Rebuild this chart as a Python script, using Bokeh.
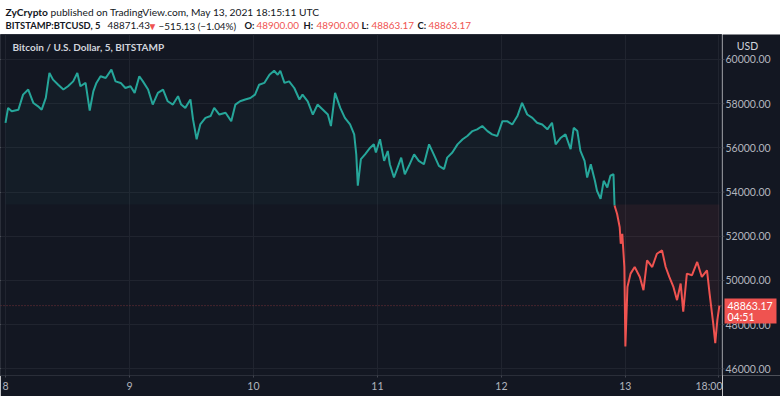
from bokeh.plotting import figure
from bokeh.models import Range1d, FixedTicker, Span, ColumnDataSource, Grid
from bokeh.layouts import column, row
from bokeh.embed import file_html
from bokeh.resources import INLINE
from bokeh.core.properties import value

# ---------------- data (hours since 8 May 2021 00:00 UTC, BTC/USD) ----------------
green_hours = [0.0, 0.5, 1.2, 2.5, 3.4, 4.4, 5.4, 6.3, 7.0, 7.8,
               8.5, 9.2, 10.2, 11.2, 12.1, 13.1, 13.9, 14.5, 15.5, 16.3,
               17.0, 17.6, 18.4, 19.4, 20.5, 21.3, 22.3, 23.2, 24.2, 25.0,
               25.9, 26.6, 27.6, 28.5, 29.5, 30.5, 31.4, 32.4, 33.4, 34.0,
               34.8, 35.8, 36.3, 37.0, 37.7, 38.7, 39.7, 40.4, 41.4, 42.6,
               43.7, 44.5, 45.4, 46.4, 47.4, 48.3, 49.1, 50.1, 51.1, 52.0,
               52.7, 53.2, 54.0, 54.9, 55.9, 56.9, 57.5, 58.5, 59.5, 60.4,
               61.4, 62.4, 63.0, 63.8, 64.8, 65.7, 66.7, 67.5, 67.9, 68.2,
               68.8, 69.6, 70.6, 71.3, 71.7, 72.5, 73.3, 74.0, 74.4, 75.2,
               75.9, 76.6, 77.3, 78.1, 79.1, 80.0, 81.0, 82.0, 82.9, 83.9,
               84.9, 85.5, 86.5, 87.5, 88.5, 89.4, 90.4, 91.3, 92.3, 93.3,
               94.2, 95.2, 96.2, 97.1, 98.1, 99.1, 100.0, 101.0, 102.0, 102.9,
               103.9, 104.9, 105.8, 106.5, 107.5, 108.4, 109.4, 110.0, 110.7, 111.3,
               112.1, 112.6, 113.3, 114.1, 114.5, 115.2, 115.8, 116.5, 117.1, 117.7, 117.9]
green_price = [57130, 57810, 57660, 57730, 58410, 58640, 58030, 57880, 57730, 58260,
               59390, 59090, 58860, 58640, 58790, 59010, 59390, 58790, 58940, 57690,
               58560, 58940, 59240, 59160, 59540, 59010, 58940, 58710, 58790, 58490,
               59240, 59010, 58640, 57960, 58490, 58640, 58110, 57960, 58340, 57960,
               57810, 58190, 57290, 56390, 57060, 57360, 57440, 57810, 57510, 57590,
               57210, 57960, 58110, 58190, 58260, 58410, 58860, 58940, 59310, 59490,
               59310, 59490, 58940, 59010, 58710, 58190, 58410, 58110, 57510, 57960,
               57740, 57510, 56990, 58490, 57810, 57360, 57060, 56610, 55710, 54290,
               55490, 55710, 56010, 56160, 55790, 56390, 55410, 55860, 55260, 54660,
               55110, 55560, 54810, 55190, 55710, 55410, 55260, 56160, 55710, 55190,
               55040, 55560, 55790, 56160, 56390, 56540, 56760, 56840, 56990, 56760,
               56610, 56540, 57210, 57210, 57060, 57440, 58040, 57510, 57360, 57140,
               57060, 56840, 57140, 56160, 56460, 56610, 55940, 56910, 56760, 55860,
               55410, 54660, 55260, 54510, 54060, 53690, 54510, 54210, 54740, 54810, 53390]
red_hours = [117.9, 118.4, 118.9, 119.1, 119.4, 119.8, 120.0, 120.4, 121.0, 121.8,
             122.8, 123.5, 124.2, 125.2, 126.1, 127.1, 127.8, 128.5, 129.3, 130.0,
             130.7, 131.2, 131.9, 132.9, 133.9, 134.8, 135.8, 136.3, 137.0, 137.4,
             137.8, 138.2]
red_price = [53390, 53010, 52410, 51660, 52110, 50610, 47010, 49710, 50310, 50610,
             50160, 49560, 50910, 50610, 51210, 51360, 50610, 50160, 49710, 49110,
             49860, 48590, 50310, 50240, 50840, 50160, 50460, 49410, 48060, 47160,
             48210, 48863.17]
baseline = 53440
last_price = 48863.17
countdown = "04:51"
day_ticks = [0, 24, 48, 72, 96, 120, 138]
day_labels = ["8", "9", "10", "11", "12", "13", "18:00"]
price_ticks = [46000, 48000, 50000, 52000, 54000, 56000, 58000, 60000]

header1_texts = ["ZyCrypto", "published on TradingView.com, May 13, 2021 18:15:11 UTC"]
header2_texts = ["BITSTAMP:BTCUSD, 5", "48871.43", "\u25BC", "\u2212515.13 (\u22121.04%)",
                 "O:", "48900.00", "H:", "48900.00", "L:", "48863.17", "C:", "48863.17"]

# ---------------- styles ----------------
BG = "#131722"
GREEN = "#26a69a"
RED = "#ef5350"
GRID = "#20242f"
TXT = "#b2b5be"
DARK = "#131722"
FONT = "Lato"
HFS = "9.9px"
HFS_B = "9.4px"

W = 780
SCALE_W = 58
MAIN_W = W - SCALE_W
HDR_H = 34
H = 362
BOTTOM = 21
Y0, Y1 = 45701, 61131
y_rng = Range1d(Y0, Y1)
usd_per_px = (Y1 - Y0) / (H - BOTTOM)

# ---------------- header ----------------
hdr = figure(width=W, height=HDR_H, x_range=Range1d(0, W), y_range=Range1d(HDR_H, 0),
             output_backend="svg", toolbar_location=None,
             x_axis_type=None, y_axis_type=None,
             background_fill_color="white", border_fill_color="white",
             min_border=0, outline_line_color=None)
hdr.grid.visible = False

hdr.text(x=[5], y=[11], text=[header1_texts[0]], text_font=value(FONT), text_font_size="10.2px",
         text_font_style="bold", text_color=DARK, text_baseline="middle")
hdr.text(x=[50], y=[11], text=[header1_texts[1]], text_font=value(FONT), text_font_size="10.2px",
         text_color=DARK, text_baseline="middle")

h2_x = [5, 107, 147, 158, 244, 256, 303, 316, 361, 371, 417, 428]
h2_bold = [True, False, False, False, True, False, True, False, True, False, True, False]
h2_col = [DARK, DARK, RED, DARK, DARK, RED, DARK, RED, DARK, RED, DARK, RED]
b_src = ColumnDataSource(dict(x=[h2_x[i] for i in range(12) if h2_bold[i]],
                              t=[header2_texts[i] for i in range(12) if h2_bold[i]],
                              c=[h2_col[i] for i in range(12) if h2_bold[i]]))
n_src = ColumnDataSource(dict(x=[h2_x[i] for i in range(12) if not h2_bold[i]],
                              t=[header2_texts[i] for i in range(12) if not h2_bold[i]],
                              c=[h2_col[i] for i in range(12) if not h2_bold[i]]))
hdr.text(x="x", y=25, text="t", text_color="c", source=b_src, text_font=value(FONT),
         text_font_size=HFS_B, text_font_style="bold", text_baseline="middle")
hdr.text(x="x", y=25, text="t", text_color="c", source=n_src, text_font=value(FONT),
         text_font_size=HFS, text_baseline="middle")

# ---------------- main chart ----------------
p = figure(width=MAIN_W, height=H, x_range=Range1d(-0.97, 138.8), y_range=y_rng,
           output_backend="svg", toolbar_location=None, y_axis_location=None,
           background_fill_color=BG, border_fill_color=BG,
           min_border_left=0, min_border_top=0, min_border_bottom=BOTTOM, min_border_right=0,
           outline_line_color="#2a2e39")

p.add_layout(Grid(dimension=1, ticker=FixedTicker(ticks=price_ticks), grid_line_color=GRID))

# baseline fills
p.varea(x=green_hours, y1=[baseline] * len(green_hours), y2=green_price,
        fill_color=GREEN, fill_alpha=0.045)
p.varea(x=red_hours, y1=red_price, y2=[baseline] * len(red_hours),
        fill_color=RED, fill_alpha=0.07)

p.line(green_hours, green_price, line_color=GREEN, line_width=2)
p.line(red_hours, red_price, line_color=RED, line_width=2)

p.add_layout(Span(location=last_price, dimension="width", line_color=RED,
                  line_alpha=0.45, line_dash="1 2", line_width=1))

p.xaxis.ticker = FixedTicker(ticks=day_ticks)
p.xaxis.major_label_overrides = {t: l for t, l in zip(day_ticks, day_labels)}
ax = p.xaxis[0]
ax.axis_line_color = "#2a2e39"
ax.major_tick_line_color = "#434651"
ax.major_tick_out = 2
ax.major_tick_in = 0
ax.minor_tick_line_color = None
ax.major_label_text_color = TXT
ax.major_label_text_font = FONT
ax.major_label_text_font_size = "10.5px"
ax.major_label_standoff = 2
p.xgrid.grid_line_color = GRID

p.text(x=[1.35], y=[60543], text=["Bitcoin / U.S. Dollar, 5, BITSTAMP"],
       text_color="#d1d4dc", text_font=value(FONT), text_font_size="10px",
       text_font_style="bold", text_baseline="middle")

# ---------------- price scale (right) ----------------
s = figure(width=SCALE_W, height=H, x_range=Range1d(0, SCALE_W), y_range=y_rng,
           output_backend="svg", toolbar_location=None,
           x_axis_type=None, y_axis_type=None,
           background_fill_color=BG, border_fill_color=BG,
           min_border_left=0, min_border_top=0, min_border_bottom=BOTTOM, min_border_right=0,
           outline_line_color=None)
s.grid.visible = False
s.segment(x0=0, x1=2, y0=price_ticks, y1=price_ticks, line_color="#434651", line_width=1)
s.text(x=3, y=price_ticks, text=["%.2f" % v for v in price_ticks], text_color=TXT,
       text_font=value(FONT), text_font_size="10.5px", text_baseline="middle")
s.text(x=[25], y=[60630], text=["USD"], text_color="#d1d4dc", text_font=value(FONT),
       text_font_size="10.5px", text_align="center", text_baseline="middle")
s.rect(x=[28], y=[last_price - 5.5 * usd_per_px], width=[52], height=[25], width_units="screen",
       height_units="screen", fill_color=RED, line_color=None)
s.text(x=[5], y=[last_price], text=["%.2f" % last_price], text_color="white",
       text_font=value(FONT), text_font_size="10.5px", text_baseline="middle")
s.text(x=[5], y=[last_price], text=[countdown], text_color="white", y_offset=11,
       text_font=value(FONT), text_font_size="10.5px", text_baseline="middle")

layout = column(hdr, row(p, s))
open("out.html", "w").write(file_html(layout, INLINE))
